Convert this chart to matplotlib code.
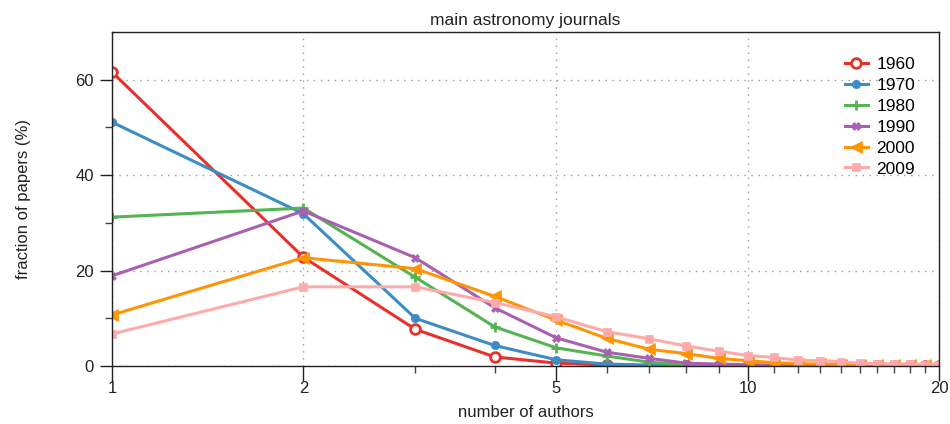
import matplotlib
matplotlib.use("Agg")
import matplotlib.pyplot as plt
from matplotlib.ticker import FixedLocator, NullFormatter, FixedFormatter

plt.rcParams['font.family'] = ['Liberation Sans', 'DejaVu Sans']

n_authors = list(range(1, 21))
years = ["1960", "1970", "1980", "1990", "2000", "2009"]
y1960 = [61.6, 22.8, 7.7, 1.9, 0.6, 0.2, 0.1, 0.05, 0.03, 0.02, 0.01, 0.01, 0.0, 0.0, 0.0, 0.0, 0.0, 0.0, 0.0, 0.0]
y1970 = [51.1, 31.9, 10.0, 4.3, 1.3, 0.4, 0.2, 0.1, 0.05, 0.03, 0.02, 0.01, 0.01, 0.0, 0.0, 0.0, 0.0, 0.0, 0.0, 0.0]
y1980 = [31.2, 33.1, 18.6, 8.2, 3.8, 2.1, 0.8, 0.3, 0.2, 0.1, 0.1, 0.05, 0.05, 0.03, 0.02, 0.02, 0.01, 0.01, 0.01, 0.01]
y1990 = [18.9, 32.5, 22.7, 12.2, 5.9, 2.9, 1.6, 0.6, 0.4, 0.3, 0.2, 0.2, 0.1, 0.1, 0.1, 0.05, 0.05, 0.05, 0.03, 0.03]
y2000 = [10.7, 22.7, 20.4, 14.6, 9.6, 5.8, 3.5, 2.6, 1.6, 1.1, 0.7, 0.5, 0.4, 0.3, 0.3, 0.2, 0.2, 0.2, 0.2, 0.2]
y2009 = [6.7, 16.6, 16.6, 13.3, 10.3, 7.2, 5.7, 4.2, 3.1, 2.2, 1.8, 1.2, 1.1, 0.9, 0.6, 0.5, 0.4, 0.4, 0.3, 0.3]
series = [y1960, y1970, y1980, y1990, y2000, y2009]

colors = ['#e8312a', '#3d8cc4', '#55b352', '#a860b0', '#ff9505', '#ffaaaa']
markers = ['o', 'o', '+', 'X', '<', 's']
msizes = [7, 6, 7, 6, 8, 6]

x_major = [1, 2, 5, 10, 20]
x_major_labels = ["1", "2", "5", "10", "20"]
x_minor = [3, 4, 6, 7, 8, 9, 11, 12, 13, 14, 15, 16, 17, 18, 19]
y_major = [0, 20, 40, 60]
y_minor = [10, 30, 50]

fig = plt.figure(figsize=(9.5, 4.24), dpi=100)
ax = fig.add_axes([112/950, 58/424, (939-112)/950, (366-32)/424])

for yr, vals, c, m, ms in zip(years, series, colors, markers, msizes):
    kw = dict(color=c, lw=2.2, marker=m, markersize=ms, label=yr)
    if yr == "1960":
        kw.update(markerfacecolor='white', markeredgewidth=2)
    elif m == '+':
        kw.update(markeredgewidth=2)
    else:
        kw.update(markeredgewidth=0.5, markeredgecolor=c)
    ax.plot(n_authors, vals, **kw)

ax.set_xscale('log')
ax.set_xlim(1, 20)
ax.set_ylim(0, 70)
ax.xaxis.set_major_locator(FixedLocator(x_major))
ax.xaxis.set_major_formatter(FixedFormatter(x_major_labels))
ax.xaxis.set_minor_locator(FixedLocator(x_minor))
ax.xaxis.set_minor_formatter(NullFormatter())
ax.yaxis.set_major_locator(FixedLocator(y_major))
ax.yaxis.set_minor_locator(FixedLocator(y_minor))

ax.tick_params(axis='both', which='major', direction='out', length=9, width=1, labelsize=12, colors='#222222')
ax.tick_params(axis='both', which='minor', direction='out', length=5, width=1, colors='#444444')
ax.tick_params(axis='x', which='major', length=11, pad=0)
ax.tick_params(axis='y', which='major', pad=4)
ax.tick_params(top=False, right=False, which='both')

for s in ax.spines.values():
    s.set_linewidth(1)
    s.set_color('#222222')

ax.grid(True, which='major', linestyle=(0, (1, 4)), color='#999999', linewidth=1)
ax.set_axisbelow(True)

ax.set_title("main astronomy journals", fontsize=12.5, color='#222222', pad=5)
ax.set_xlabel("number of authors", fontsize=12, color='#222222', labelpad=6)
ax.set_ylabel("fraction of papers (%)", fontsize=12, color='#222222', labelpad=32)

leg = ax.legend(loc='upper right', frameon=False, fontsize=12.5, handlelength=1.3,
                handletextpad=0.5, labelspacing=0.33, bbox_to_anchor=(0.99, 0.972))

fig.savefig("out.png", dpi=100)
